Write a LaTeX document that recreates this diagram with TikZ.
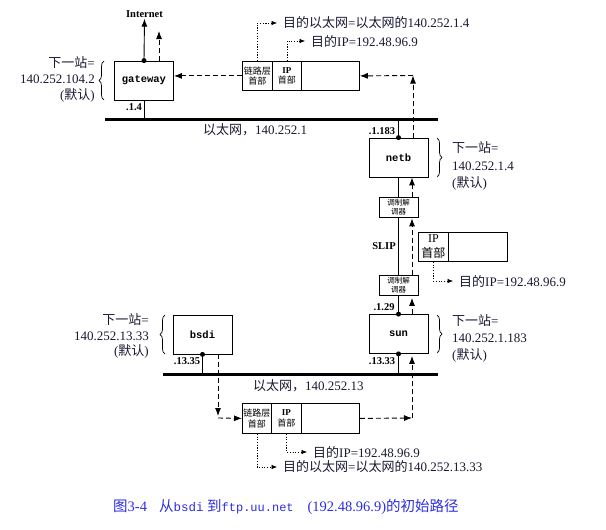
\documentclass[tikz,border=0pt]{standalone}
\usepackage{fontspec}
\setmainfont{Liberation Serif}
\setmonofont{Liberation Mono}
\newfontfamily\cjk{Noto Sans CJK SC}
\usetikzlibrary{arrows.meta,decorations.pathreplacing,calc}
\definecolor{lab}{RGB}{25,25,50}
\definecolor{capblue}{RGB}{45,45,225}
\begin{document}
\begin{tikzpicture}[x=1pt,y=-1pt,
  host/.style={draw,line width=0.8pt,minimum width=59pt,minimum height=39pt,inner sep=0pt,font=\ttfamily\bfseries\fontsize{10.5}{12}\selectfont},
  modem/.style={draw,line width=0.7pt,minimum width=39pt,minimum height=20pt,inner sep=0pt,align=center,font=\cjk\fontsize{7.5}{9}\selectfont},
  cell/.style={draw,line width=0.8pt,inner sep=0pt,anchor=north west,align=center,font=\cjk\fontsize{9}{10.5}\selectfont},
  nh/.style={text=lab,inner sep=0pt},
  addr/.style={font=\bfseries\fontsize{10.5}{12}\selectfont,inner sep=0pt},
  dst/.style={anchor=west,inner xsep=6pt,inner ysep=0pt,text=lab,font=\fontsize{13}{15}\selectfont},
  lan/.style={line width=3pt},
  wire/.style={line width=0.8pt},
  sarr/.style={-{Latex[length=8pt,width=6pt]},line width=0.9pt},
  darr/.style={sarr,dash pattern=on 5pt off 3pt},
  dotarr/.style={-{Latex[length=5.5pt,width=4.5pt]},line width=0.6pt,dash pattern=on 1.2pt off 1.5pt},
  brc/.style={decorate,decoration={brace,amplitude=5pt},line width=0.7pt},
  dotc/.style={fill,circle,inner sep=0pt,minimum size=5pt}
]
\useasboundingbox (0,0) rectangle (606,530);

% Ethernets
\coordinate (e1l) at (105,119);
\coordinate (e1r) at (438,119);
\coordinate (e2l) at (163,374);
\coordinate (e2r) at (438,374);
\draw[lan] (e1l) -- (e1r);
\draw[lan] (e2l) -- (e2r);
\node[anchor=west,text=lab,inner sep=0pt,font=\fontsize{13}{15}\selectfont] (e1lab) at (203,130) {{\cjk 以太网，}140.252.1};
\node[anchor=west,text=lab,inner sep=0pt,font=\fontsize{13}{15}\selectfont] (e2lab) at (253,386) {{\cjk 以太网，}140.252.13};

% hosts
\node[host] (gateway) at (144,80.5) {gateway};
\node[host] (netb) at (398.5,157.5) {netb};
\node[host] (sun) at (398.5,334) {sun};
\node[host] (bsdi) at (202.5,334.5) {bsdi};

% modems
\node[modem] (m1) at (398.5,207) {调制解\\调器};
\node[modem] (m2) at (398.5,285.5) {调制解\\调器};

% Internet
\node[font=\bfseries\fontsize{10.5}{12}\selectfont,inner sep=1pt] (inet) at (144.5,14) {Internet};
\draw[sarr] (gateway.north) -- (inet.south);
\coordinate (gwup) at (159,31);
\draw[darr] (gateway.north -| gwup) -- (gwup);

% wires
\draw[wire] (gateway.south) -- (gateway.south |- e1l);
\draw[wire] (netb.north) -- (netb.north |- e1l);
\draw[wire] (netb.south) -- (m1.north);
\draw[wire] (m1.south) -- (m2.north);
\draw[wire] (m2.south) -- (sun.north);
\draw[wire] (sun.south) -- (sun.south |- e2l);
\draw[wire] (bsdi.south) -- (bsdi.south |- e2l);

% dots
\node[dotc] (dg) at (gateway.north) {};
\node[dotc] (dn) at (netb.north) {};
\node[dotc] (ds1) at (sun.north) {};
\node[dotc] (ds2) at (sun.south) {};
\node[dotc] (db) at (bsdi.south) {};

% address labels
\node[addr] (a1) at (134,107) {.1.4};
\node[addr] (a2) at (382,131) {.1.183};
\node[addr] (a3) at (384,307) {.1.29};
\node[addr] (a4) at (382,361) {.13.33};
\node[addr] (a5) at (187,361) {.13.35};
\node[font=\bfseries\fontsize{10.5}{12}\selectfont,inner sep=0pt] (slip) at (384,246) {SLIP};

% braces and next-hop labels
\draw[brc] (104,100) -- (104,61);
\node[nh,anchor=east,align=right,font=\fontsize{13}{16}\selectfont] (gwnh) at (95,79) {{\cjk 下一站}=\\140.252.104.2\\({\cjk 默认})};
\draw[brc] (437,138) -- (437,177);
\node[nh,anchor=west,align=left,font=\fontsize{13}{17.5}\selectfont] (nbnh) at (452,166) {{\cjk 下一站}=\\140.252.1.4\\({\cjk 默认})};
\draw[brc] (437,315) -- (437,353);
\node[nh,anchor=west,align=left,font=\fontsize{13}{17}\selectfont] (sunnh) at (452,338) {{\cjk 下一站}=\\140.252.1.183\\({\cjk 默认})};
\draw[brc] (165,354) -- (165,315);
\node[nh,anchor=east,align=right,font=\fontsize{13}{15.5}\selectfont] (bsnh) at (149,336) {{\cjk 下一站}=\\140.252.13.33\\({\cjk 默认})};

% top packet
\node[cell,minimum width=30pt,minimum height=29pt] (p1a) at (242,61) {链路层\\首部};
\node[cell,minimum width=29pt,minimum height=29pt] (p1b) at (272,61) {{\rmfamily\bfseries IP}\\首部};
\node[cell,minimum width=58pt,minimum height=29pt] (p1c) at (301,61) {};
% middle packet
\node[cell,minimum width=30pt,minimum height=29pt,font=\cjk\fontsize{12}{15}\selectfont] (p2a) at (418,232) {{\rmfamily IP}\\首部};
\node[cell,minimum width=59pt,minimum height=29pt] (p2b) at (448,232) {};
% lower packet
\node[cell,minimum width=29pt,minimum height=30pt] (p3a) at (242,403) {链路层\\首部};
\node[cell,minimum width=30pt,minimum height=30pt] (p3b) at (271,403) {{\rmfamily\bfseries IP}\\首部};
\node[cell,minimum width=58pt,minimum height=30pt] (p3c) at (301,403) {};

% destination labels
\node[dst] (t1) at (277,23) {{\cjk 目的以太网}={\cjk 以太网的}140.252.1.4};
\node[dst] (t2) at (305,41) {{\cjk 目的}IP=192.48.96.9};
\node[dst] (t3) at (453,281) {{\cjk 目的}IP=192.48.96.9};
\node[dst] (t4) at (307,452) {{\cjk 目的}IP=192.48.96.9};
\node[dst] (t5) at (277,467) {{\cjk 目的以太网}={\cjk 以太网的}140.252.13.33};

\draw[dotarr] (p1a.north) |- (t1.west);
\draw[dotarr] (p1b.north) |- (t2.west);
\draw[dotarr] (p2a.south) |- (t3.west);
\draw[dotarr] (p3b.south) |- (t4.west);
\draw[dotarr] (p3a.south) |- (t5.west);

% packet path (dashed)
\draw[darr] (p1a.west) -- (gateway.east |- p1a.west);
\coordinate (c1) at (413,75.5);
\draw[darr] (netb.north -| c1) -- (c1);
\draw[darr] (c1) -- (p1c.east);
\coordinate (vx) at (412,0);
\draw[darr] (m1.north -| vx) -- (netb.south -| vx);
\draw[darr] (m2.north -| vx) -- ($(m1.south -| vx)+(0,1)$);
\draw[darr] (sun.north -| vx) -- ($(m2.south -| vx)+(0,2)$);
\coordinate (c2) at (412,418);
\draw[darr] (p3c.east) -- (c2);
\draw[darr] (c2) -- ($(sun.south -| vx)+(0,2)$);
\coordinate (c3) at (218,418);
\draw[darr] (bsdi.south -| c3) -- ($(c3)+(0,-2)$);
\draw[darr] (c3) -- (p3a.west);

% caption
\node[anchor=west,inner sep=0pt,text=capblue,font=\fontsize{14.5}{16}\selectfont] (cap) at (113,507)
 {{\cjk 图}3-4\hspace{12pt}{\cjk 从}{\ttfamily\fontsize{12.5}{14}\selectfont bsdi} {\cjk 到}{\ttfamily\fontsize{12}{14}\selectfont ftp.uu.net}\hspace{14pt}(192.48.96.9){\cjk 的初始路径}};
\end{tikzpicture}
\end{document}
